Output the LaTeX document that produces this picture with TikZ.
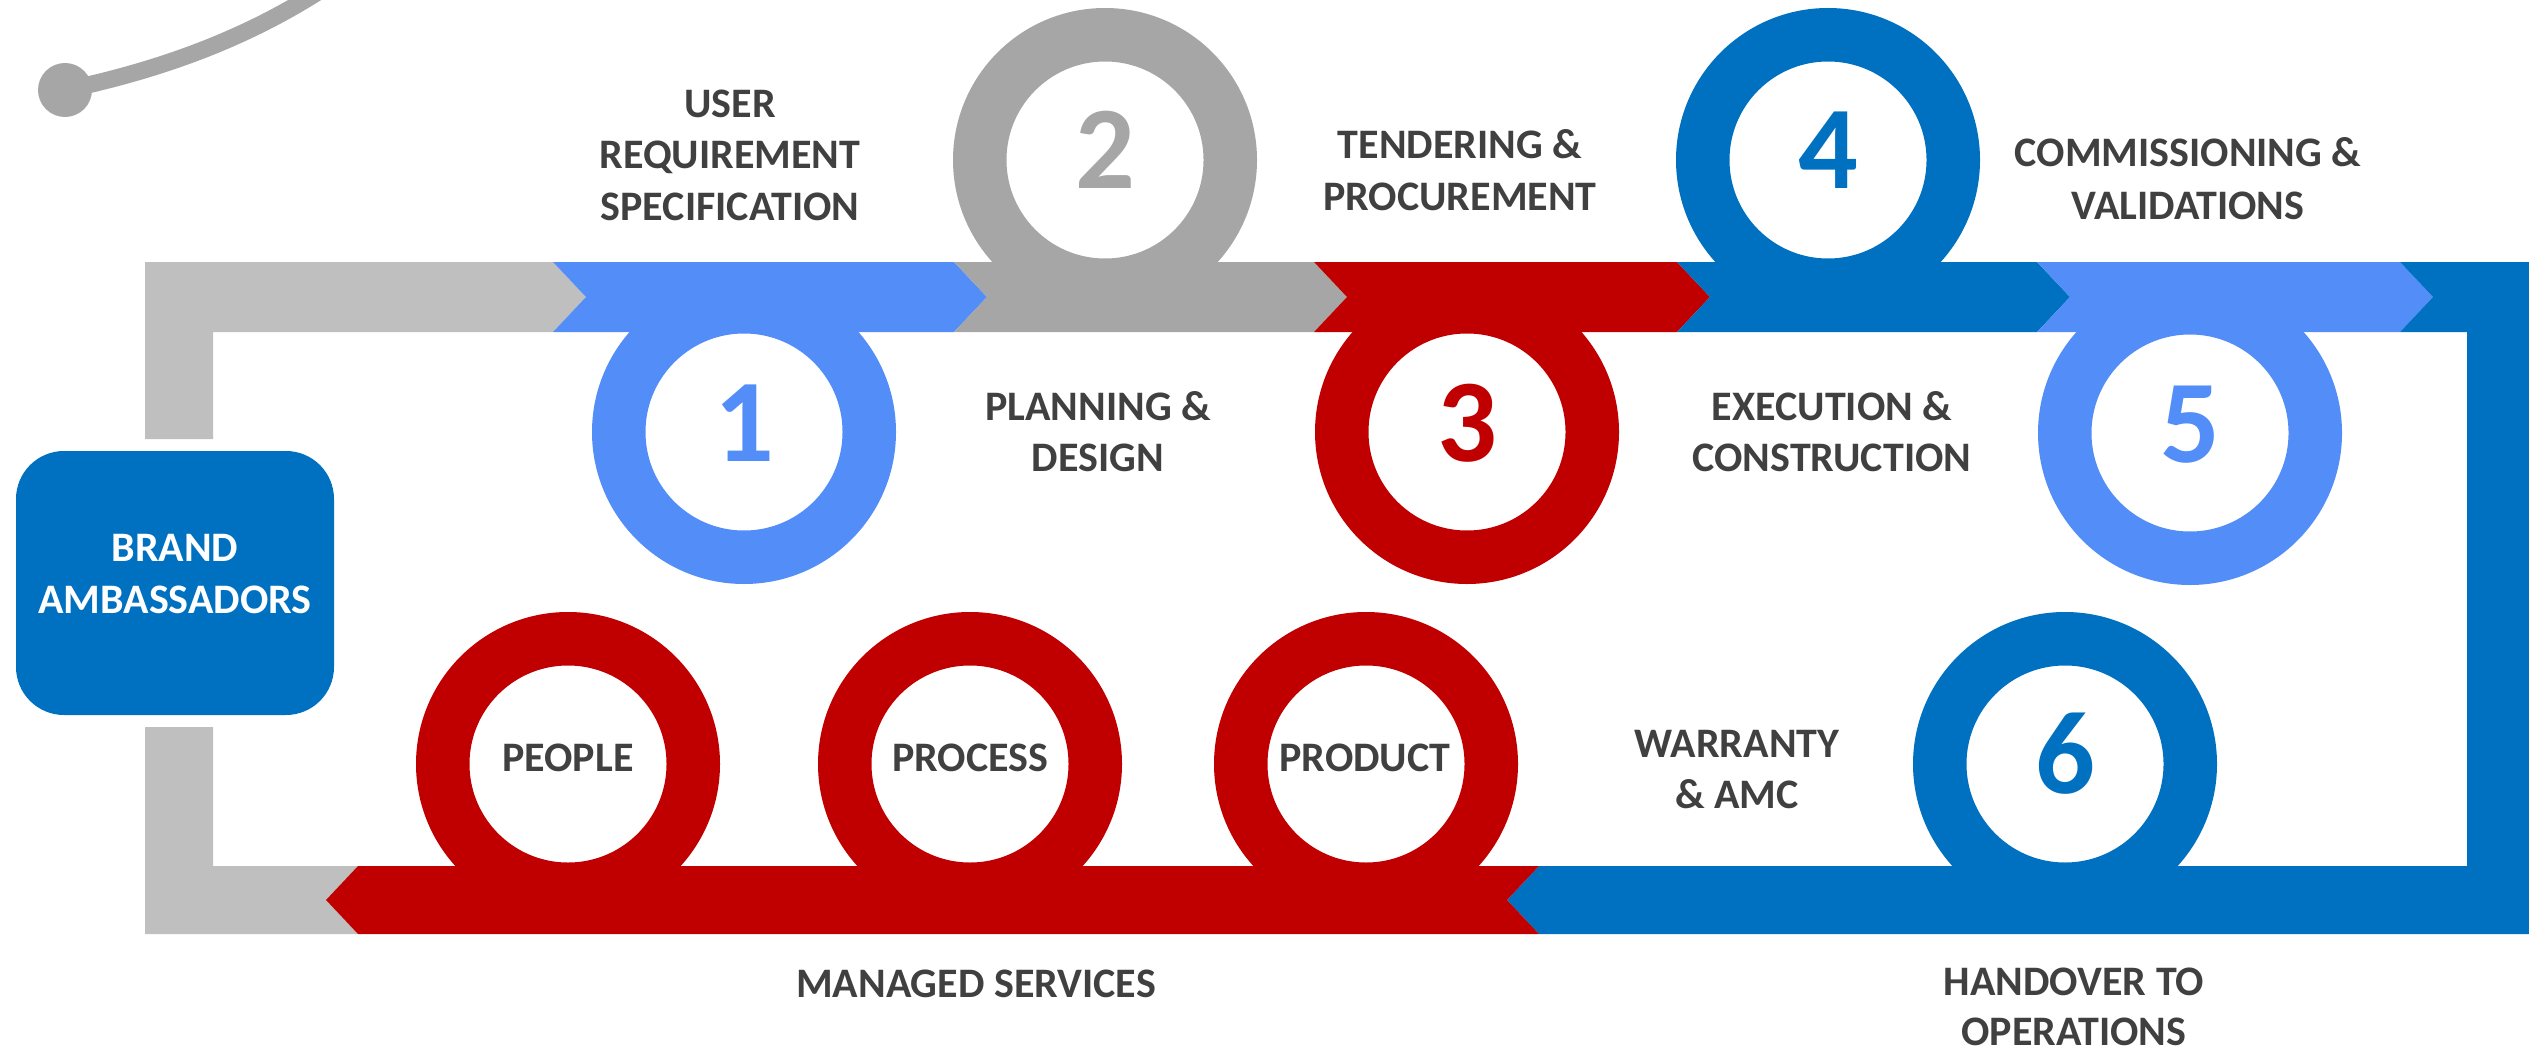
\documentclass[tikz,border=0pt]{standalone}
\usepackage{fontspec}
\setmainfont{Carlito}
\definecolor{lgrey}{RGB}{191,191,191}
\definecolor{mgrey}{RGB}{166,166,166}
\definecolor{lblue}{RGB}{83,141,248}
\definecolor{dblue}{RGB}{0,112,192}
\definecolor{dred}{RGB}{192,0,0}
\definecolor{txtgrey}{RGB}{64,64,64}
\begin{document}
\begin{tikzpicture}[x=1pt,y=-1pt,
  lbl/.style={anchor=base, inner sep=0pt, text=txtgrey, font=\bfseries\fontsize{42}{51}\selectfont},
  digit/.style={anchor=base, inner sep=0pt, font=\bfseries\fontsize{118}{130}\selectfont},
  ring/.style={circle, inner sep=0pt, minimum size=250.5pt, line width=53.5pt}]
\useasboundingbox (0,0) rectangle (2529,1051);

% top-left decorative arc
\node[circle, fill=mgrey, inner sep=0pt, minimum size=54pt] (dot) at (65,90) {};
\coordinate (arcend) at (318,-8);
\draw[mgrey, line width=17pt] (dot.center) .. controls (170,68) and (250,35) .. (arcend);

% rings
\node[ring, draw=lblue] (r1) at (744,432) {};
\node[ring, draw=mgrey] (r2) at (1105,160) {};
\node[ring, draw=dred] (r3) at (1467,432) {};
\node[ring, draw=dblue] (r4) at (1828,160) {};
\node[ring, draw=lblue] (r5) at (2190,433) {};
\node[ring, draw=dred] (rpeople) at (568,764) {};
\node[ring, draw=dred] (rprocess) at (970,764) {};
\node[ring, draw=dred] (rproduct) at (1366,764) {};
\node[ring, draw=dblue] (r6) at (2065,764) {};

% bands
\fill[lgrey] (145,439) -- (145,262) -- (553,262) -- (586,297) -- (553,332) -- (213,332) -- (213,439) -- cycle;
\fill[lgrey] (145,727) -- (213,727) -- (213,866) -- (358,866) -- (326,900) -- (358,934) -- (145,934) -- cycle;
\fill[lblue] (553,262) -- (954,262) -- (987,297) -- (954,332) -- (553,332) -- (586,297) -- cycle;
\fill[mgrey] (954,262) -- (1314,262) -- (1347,297) -- (1314,332) -- (954,332) -- (987,297) -- cycle;
\fill[dred] (1314,262) -- (1677,262) -- (1710,297) -- (1677,332) -- (1314,332) -- (1347,297) -- cycle;
\fill[dblue] (1677,262) -- (2037,262) -- (2070,297) -- (2037,332) -- (1677,332) -- (1710,297) -- cycle;
\fill[lblue] (2037,262) -- (2400,262) -- (2433,297) -- (2400,332) -- (2037,332) -- (2070,297) -- cycle;
\fill[dblue] (2400,262) -- (2529,262) -- (2529,934) -- (1539,934) -- (1507,900) -- (1539,866) -- (2467,866) -- (2467,332) -- (2400,332) -- (2433,297) -- cycle;
\fill[dred] (358,866) -- (1539,866) -- (1507,900) -- (1539,934) -- (358,934) -- (326,900) -- cycle;

% brand box
\node[fill=dblue, rounded corners=48pt, minimum width=318pt, minimum height=264pt, inner sep=0pt] (brand) at (175,583) {};
\node[lbl, text=white] (brand1) at (175,561) {BRAND};
\node[lbl, text=white] (brand2) at (175,613) {AMBASSADORS};

% digits
\node[digit, text=lblue] (d1) at (744,461) {1};
\node[digit, text=mgrey] (d2) at (1105,189) {2};
\node[digit, text=dred] (d3) at (1467,461) {3};
\node[digit, text=dblue] (d4) at (1828,189) {4};
\node[digit, text=lblue] (d5) at (2190,462) {5};
\node[digit, text=dblue] (d6) at (2065,793) {6};

% labels
\node[lbl] (l1a) at (730,118) {USER};
\node[lbl] (l1b) at (730,169) {REQUIREMENT};
\node[lbl] (l1c) at (730,220) {SPECIFICATION};
\node[lbl] (l2a) at (1098,420) {PLANNING \&};
\node[lbl] (l2b) at (1098,471) {DESIGN};
\node[lbl] (l3a) at (1460,159) {TENDERING \&};
\node[lbl] (l3b) at (1460,211) {PROCUREMENT};
\node[lbl] (l4a) at (1832,420) {EXECUTION \&};
\node[lbl] (l4b) at (1832,471) {CONSTRUCTION};
\node[lbl] (l5a) at (2188,167) {COMMISSIONING \&};
\node[lbl] (l5b) at (2188,219) {VALIDATIONS};
\node[lbl] (l6a) at (2074,995) {HANDOVER TO};
\node[lbl] (l6b) at (2074,1045) {OPERATIONS};
\node[lbl] (l7a) at (1737,757) {WARRANTY};
\node[lbl] (l7b) at (1737,808) {\& AMC};
\node[lbl] (lpeople) at (568,771) {PEOPLE};
\node[lbl] (lprocess) at (970,771) {PROCESS};
\node[lbl] (lproduct) at (1365,771) {PRODUCT};
\node[lbl] (lms) at (976,997) {MANAGED SERVICES};
\end{tikzpicture}
\end{document}
